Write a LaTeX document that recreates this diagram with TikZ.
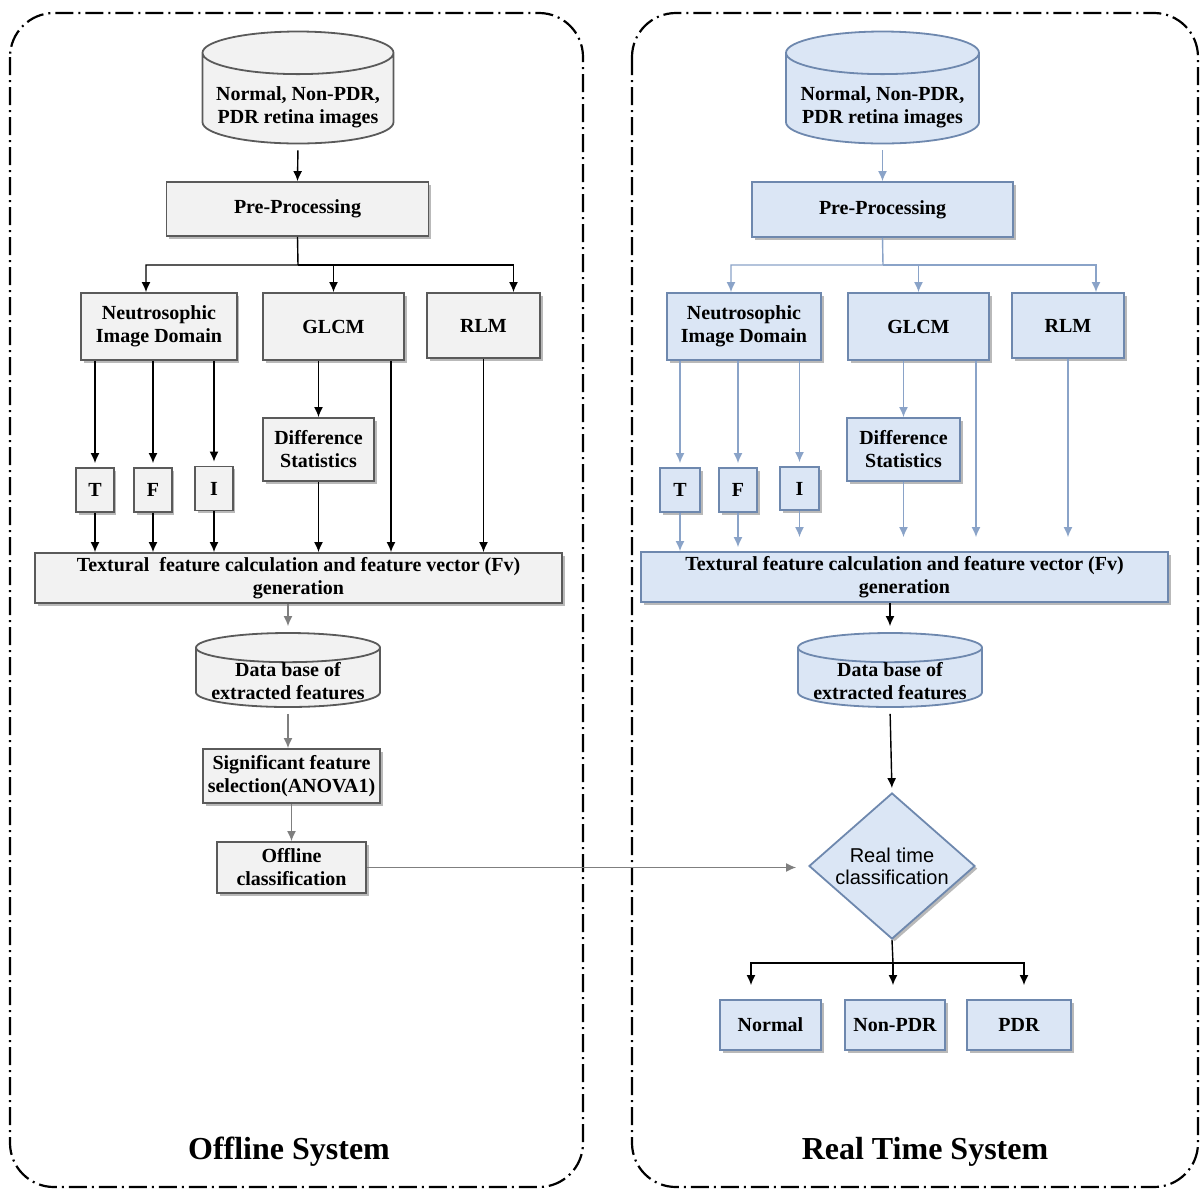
\documentclass[tikz,border=0pt]{standalone}
\usepackage{fontspec}
\setmainfont{Liberation Serif}
\newfontfamily\diafont{Liberation Sans}
\usepackage{xcolor}
\usepackage{tikz}
\usetikzlibrary{arrows.meta,shapes.geometric,shadows}

\definecolor{offfill}{HTML}{F2F2F2}
\definecolor{offline}{HTML}{5A5A5A}
\definecolor{offarrow}{HTML}{7F7F7F}
\definecolor{rtfill}{HTML}{DBE6F5}
\definecolor{rtline}{HTML}{6E88AE}
\definecolor{rtarrow}{HTML}{8AA3C8}

% text lowered into the body of a cylinder
\newcommand{\dbtext}[2]{\raisebox{-#1}[0pt][0pt]{\begin{tabular}{@{}c@{}}#2\end{tabular}}}

\begin{document}
\begin{tikzpicture}[x=0.5pt,y=-0.5pt,>={Latex[length=5pt,width=4.5pt]},
  font=\fontsize{10}{11.5}\selectfont\bfseries,
  offbox/.style={draw=offline, fill=offfill, line width=0.9pt, inner sep=0pt, align=center,
    drop shadow={shadow xshift=1.3pt, shadow yshift=-1.3pt, fill=black!55, opacity=.5}},
  rtbox/.style={offbox, draw=rtline, fill=rtfill},
  offdb/.style={cylinder, shape border rotate=90, draw=offline, fill=offfill, line width=0.9pt,
    inner sep=0pt, anchor=shape center},
  rtdb/.style={offdb, draw=rtline, fill=rtfill},
  frame/.style={line width=1.1pt, dash pattern=on 9pt off 2.5pt on 1pt off 2.5pt, rounded corners=22pt},
  title/.style={font=\fontsize{16}{19}\selectfont\bfseries},
  offarr/.style={->, line width=0.7pt},
  offarr2/.style={->, line width=0.7pt, draw=offarrow},
  rtarr/.style={->, line width=0.7pt, draw=rtarrow}]

\useasboundingbox (0,0) rectangle (1200,1190);

% Frames
\draw[frame] (10,13) rectangle (583,1187);
\draw[frame] (632,13) rectangle (1198,1187);

% Offline system
\node[offdb, minimum width=95.5pt, minimum height=56pt, aspect=0.26] (srcL) at (298,87.5)
  {\dbtext{7pt}{Normal, Non-PDR,\\PDR retina images}};
\node[offbox, minimum width=131pt, minimum height=27pt] (ppL) at (297.5,209) {Pre-Processing};
\node[offbox, minimum width=77.75pt, minimum height=33.5pt] (ndL) at (159,326.5) {Neutrosophic\\Image Domain};
\node[offbox, minimum width=70.5pt, minimum height=33.5pt] (glcmL) at (333.5,326.5) {GLCM};
\node[offbox, minimum width=56.5pt, minimum height=32.5pt] (rlmL) at (483.5,325.5) {RLM};
\node[offbox, minimum width=18.75pt, minimum height=22pt] (tL) at (95,490) {T};
\node[offbox, minimum width=18.75pt, minimum height=22pt] (fL) at (153,490) {F};
\node[offbox, minimum width=18.75pt, minimum height=22pt] (iL) at (214,488.5) {I};
\node[offbox, minimum width=55.5pt, minimum height=31.5pt] (dsL) at (318.5,449.5) {Difference\\Statistics};
\node[offbox, minimum width=263.5pt, minimum height=25pt] (texL) at (298.5,578)
  {Textural\ \ feature calculation and feature vector (Fv)\\generation};
\node[offdb, minimum width=92pt, minimum height=37pt, aspect=0.19] (dbL) at (288,670)
  {\dbtext{5.25pt}{Data base of\\extracted features}};
\node[offbox, minimum width=88.5pt, minimum height=27pt] (sigL) at (291.5,776)
  {Significant feature\\selection(ANOVA1)};
\node[offbox, minimum width=74.5pt, minimum height=25.5pt] (offL) at (291.5,867.5) {Offline\\classification};
\node[title] (titleL) at (289,1152) {Offline System};

\coordinate (brL) at (298,265);
\draw[offarr, shorten <=3pt] (srcL.south) -- (ppL.north);
\draw[offarr] (ppL.south) -- (brL) -| ([xshift=-6.5pt]ndL.north);
\draw[offarr] (brL) -| (glcmL.north);
\draw[offarr] (brL) -| ([xshift=15pt]rlmL.north);
\foreach \n in {tL,fL,iL}{
  \draw[offarr, shorten >=2pt] (\n.north |- ndL.south) -- (\n.north);
  \draw[offarr] (\n.south) -- (\n.south |- texL.north);
}
\draw[offarr] (dsL.north |- glcmL.south) -- (dsL.north);
\draw[offarr] (dsL.south) -- (dsL.south |- texL.north);
\draw[offarr] ([xshift=28.75pt]glcmL.south) -- ([xshift=28.75pt]glcmL.south |- texL.north);
\draw[offarr] (rlmL.south) -- (rlmL.south |- texL.north);
\draw[offarr2, shorten >=3pt] (dbL.north |- texL.south) -- (dbL.north);
\draw[offarr2, shorten <=3pt] (dbL.south) -- (dbL.south |- sigL.north);
\draw[offarr2] (sigL.south) -- (offL.north);

% Real time system
\node[rtdb, minimum width=96.5pt, minimum height=56pt, aspect=0.26] (srcR) at (882.5,87.5)
  {\dbtext{7pt}{Normal, Non-PDR,\\PDR retina images}};
\node[rtbox, minimum width=130.5pt, minimum height=27.5pt] (ppR) at (882.5,209.5) {Pre-Processing};
\node[rtbox, minimum width=77pt, minimum height=33.5pt] (ndR) at (744,326.5) {Neutrosophic\\Image Domain};
\node[rtbox, minimum width=70.5pt, minimum height=33.5pt] (glcmR) at (918.5,326.5) {GLCM};
\node[rtbox, minimum width=56pt, minimum height=32.5pt] (rlmR) at (1068,325.5) {RLM};
\node[rtbox, minimum width=20pt, minimum height=22pt] (tR) at (680,490) {T};
\node[rtbox, minimum width=19pt, minimum height=22pt] (fR) at (738,490) {F};
\node[rtbox, minimum width=19.5pt, minimum height=21.5pt] (iR) at (799.5,488.5) {I};
\node[rtbox, minimum width=56.5pt, minimum height=31.5pt] (dsR) at (903.5,449.5) {Difference\\Statistics};
\node[rtbox, minimum width=263.5pt, minimum height=25pt] (texR) at (904.5,577)
  {Textural feature calculation and feature vector (Fv)\\generation};
\node[rtdb, minimum width=92pt, minimum height=37pt, aspect=0.19] (dbR) at (890,670)
  {\dbtext{5.25pt}{Data base of\\extracted features}};
\node[diamond, draw=rtline, fill=rtfill, line width=0.9pt, inner sep=0pt, aspect=1.1,
  minimum width=83pt, minimum height=73pt, align=center,
  font=\diafont\fontsize{10}{11}\selectfont,
  drop shadow={shadow xshift=1.3pt, shadow yshift=-1.3pt, fill=black!55, opacity=.5}]
  (rtc) at (892,866) {Real time\\classification};
\node[rtbox, minimum width=50.5pt, minimum height=25pt] (normR) at (770.5,1025) {Normal};
\node[rtbox, minimum width=50pt, minimum height=25pt] (nonR) at (895,1025) {Non-PDR};
\node[rtbox, minimum width=52pt, minimum height=25pt] (pdrR) at (1019,1025) {PDR};
\node[title] (titleR) at (925,1152) {Real Time System};

\coordinate (brR) at (883,265);
\coordinate (brR2) at (893,963);
\draw[rtarr, shorten <=3pt] (srcR.south) -- (ppR.north);
\draw[rtarr] (ppR.south) -- (brR) -| ([xshift=-6.5pt]ndR.north);
\draw[rtarr] (brR) -| (glcmR.north);
\draw[rtarr] (brR) -| ([xshift=14pt]rlmR.north);
\foreach \n in {tR,fR,iR}{
  \draw[rtarr, shorten >=2pt] (\n.north |- ndR.south) -- (\n.north);
}
\draw[rtarr] (tR.south) -- (tR.south |- texR.north);
\draw[rtarr, shorten >=2pt] (fR.south) -- (fR.south |- texR.north);
\draw[rtarr, shorten >=7pt] (iR.south) -- (iR.south |- texR.north);
\draw[rtarr] (dsR.north |- glcmR.south) -- (dsR.north);
\draw[rtarr, shorten >=7pt] (dsR.south) -- (dsR.south |- texR.north);
\draw[rtarr, shorten >=7pt] ([xshift=28.75pt]glcmR.south) -- ([xshift=28.75pt]glcmR.south |- texR.north);
\draw[rtarr, shorten >=7pt] (rlmR.south) -- (rlmR.south |- texR.north);
\draw[offarr, shorten >=3pt] (dbR.north |- texR.south) -- (dbR.north);
\draw[offarr, shorten <=3pt, shorten >=2pt] (dbR.south) -- (rtc.north);
\draw[line width=0.7pt] (rtc.south) -- (brR2);
\draw[offarr, shorten >=7pt] (brR2) -| ([xshift=-9.75pt]normR.north);
\draw[offarr, shorten >=7pt] (brR2) -- (brR2 |- nonR.north);
\draw[offarr, shorten >=7pt] (brR2) -| ([xshift=2.5pt]pdrR.north);

% Offline result to real time classification
\draw[offarr2, shorten >=6pt] (offL.east) -- (offL.east -| rtc.west);

\end{tikzpicture}
\end{document}
